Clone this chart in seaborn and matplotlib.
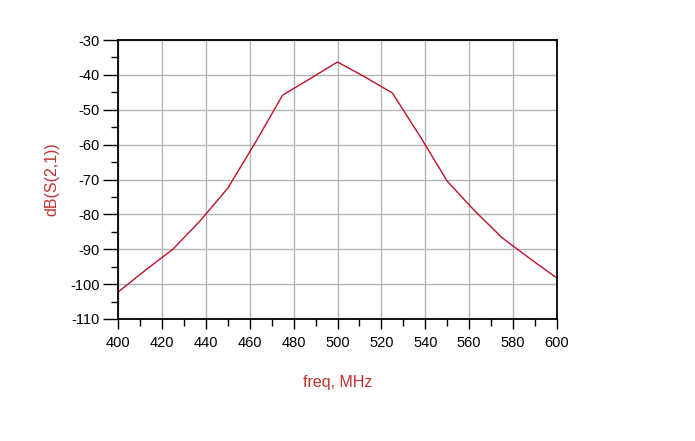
import matplotlib
matplotlib.use("Agg")
import matplotlib.pyplot as plt
from matplotlib.ticker import MultipleLocator
import pandas as pd
import seaborn as sns

# S21 response
freq_mhz = [400, 412.5, 425, 437.5, 450, 462.5, 475, 487.5, 500,
            512.5, 525, 537.5, 550, 562.5, 575, 587.5, 600]
s21_db = [-102.3, -96.0, -90.0, -81.8, -72.5, -59.5, -45.8, -41.1, -36.3,
          -40.6, -45.2, -57.5, -70.5, -79.0, -86.7, -92.6, -98.3]

sns.set_style("white")
plt.rcParams["font.family"] = ["Liberation Sans", "DejaVu Sans"]
plt.rcParams["axes.unicode_minus"] = False

df = pd.DataFrame({"freq": freq_mhz, "s21": s21_db})

fig = plt.figure(figsize=(6.95, 4.41), dpi=100)
ax = fig.add_axes([118 / 695, 1 - 319 / 441, 439 / 695, 279 / 441])

sns.lineplot(data=df, x="freq", y="s21", ax=ax, color="#c0102a", linewidth=1.0)

ax.set_xlim(400, 600)
ax.set_ylim(-110, -30)
ax.xaxis.set_major_locator(MultipleLocator(20))
ax.xaxis.set_minor_locator(MultipleLocator(10))
ax.yaxis.set_major_locator(MultipleLocator(10))
ax.yaxis.set_minor_locator(MultipleLocator(5))
ax.grid(True, which="major", color="#b4b4b4", linewidth=1.0)
ax.set_axisbelow(True)

ax.tick_params(axis="both", which="both", direction="out", colors="black",
               labelsize=10.5, width=1.0)
ax.tick_params(axis="y", which="major", length=11, left=True, pad=2)
ax.tick_params(axis="y", which="minor", length=5, left=True)
ax.tick_params(axis="x", which="major", length=7, bottom=True, pad=5)
ax.tick_params(axis="x", which="minor", length=5, bottom=True)

for s in ax.spines.values():
    s.set_color("black")
    s.set_linewidth(1.3)

ax.set_xlabel("freq, MHz", color="#c03030", fontsize=11.5, labelpad=18)
ax.set_ylabel("dB(S(2,1))", color="#c03030", fontsize=11.5, labelpad=8)

fig.savefig("out.png", dpi=100)
